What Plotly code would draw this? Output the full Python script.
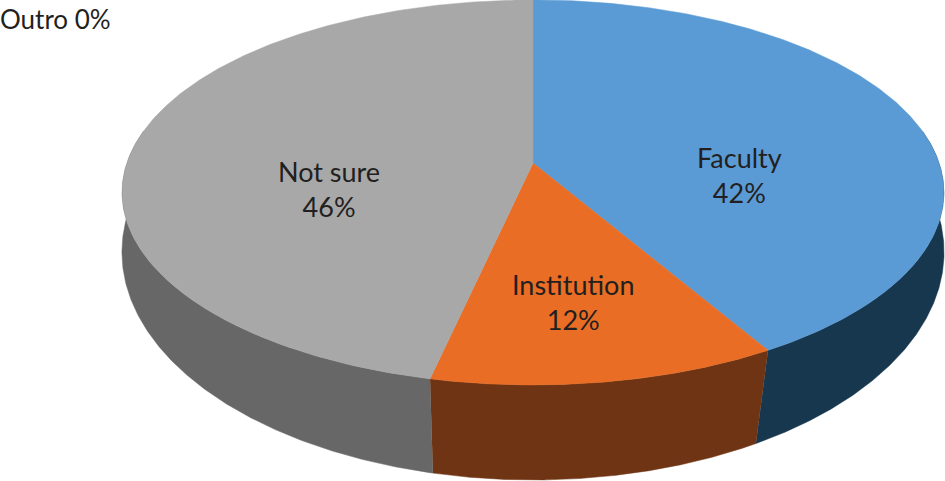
# coding=UTF-8

import numpy as np
import plotly.graph_objects as go

categories = ["Faculty", "Institution", "Not sure", "Outro"]
shares = [41.5, 11.8, 46.4, 0.0]

top_colors = ["#5B9BD5", "#E96D24", "#A8A8A8", "#FFC000"]
wall_colors = ["#17374F", "#6F3413", "#676767", "#7F6000"]

CENTER_X = 533
CENTER_Y = 163


# tilted disc seen in perspective, angle runs clockwise from 12 o'clock
def rim(theta, cx, cy, a, b, k):
    w = 1 + k * np.cos(theta)
    return cx + a * np.sin(theta) / w, cy - b * np.cos(theta) / w


def top_rim(theta):
    return rim(theta, CENTER_X, CENTER_Y, 406, 188, 0.153)


def bottom_rim(theta):
    return rim(theta + np.radians(0.3), CENTER_X, 229.2, 409, 225.7, 0.1)


def slices():
    total = sum(shares)
    edges = np.cumsum([0] + shares) / total * 2 * np.pi
    return list(zip(edges[:-1], edges[1:]))


fig = go.Figure()

# walls first, only the front part can be seen
for (start, end), color in zip(slices(), wall_colors):
    start = max(start, np.radians(80))
    end = min(end, np.radians(280))
    if end <= start:
        continue
    theta = np.linspace(start, end, 200)
    x1, y1 = top_rim(theta)
    x2, y2 = bottom_rim(theta[::-1])
    fig.add_trace(go.Scatter(
        x=np.concatenate([x1, x2]),
        y=np.concatenate([y1, y2]),
        mode="lines",
        fill="toself",
        fillcolor=color,
        line=dict(color=color, width=0.5),
        hoverinfo="skip",
    ))

# top of the pie
for (start, end), color in zip(slices(), top_colors):
    if end <= start:
        continue
    theta = np.linspace(start, end, 300)
    x, y = top_rim(theta)
    fig.add_trace(go.Scatter(
        x=np.concatenate([[CENTER_X], x, [CENTER_X]]),
        y=np.concatenate([[CENTER_Y], y, [CENTER_Y]]),
        mode="lines",
        fill="toself",
        fillcolor=color,
        line=dict(color=color, width=0.5),
        hoverinfo="skip",
    ))

label_pos = [(739, 174.5), (573, 301.5), (329, 189)]
for cat, val, pos in zip(categories[:3], shares[:3], label_pos):
    fig.add_annotation(
        x=pos[0], y=pos[1],
        text="%s<br>%d%%" % (cat, round(val)),
        showarrow=False,
        font=dict(family="Lato", size=27, color="#231F20"),
    )

fig.add_annotation(
    x=0, y=19,
    xshift=-2,
    xanchor="left",
    text="%s %d%%" % (categories[3], round(shares[3])),
    showarrow=False,
    font=dict(family="Lato", size=26, color="#231F20"),
)

fig.update_layout(
    width=945,
    height=481,
    showlegend=False,
    margin=dict(l=0, r=0, t=0, b=0),
    plot_bgcolor="white",
    paper_bgcolor="white",
    xaxis=dict(range=[0, 945], visible=False),
    yaxis=dict(range=[481, 0], visible=False),
)

# the page has a default body margin that would push the chart out of the window
fig.write_html(
    "out.html",
    config=dict(displayModeBar=False),
    post_script="document.body.style.margin='0';",
)
